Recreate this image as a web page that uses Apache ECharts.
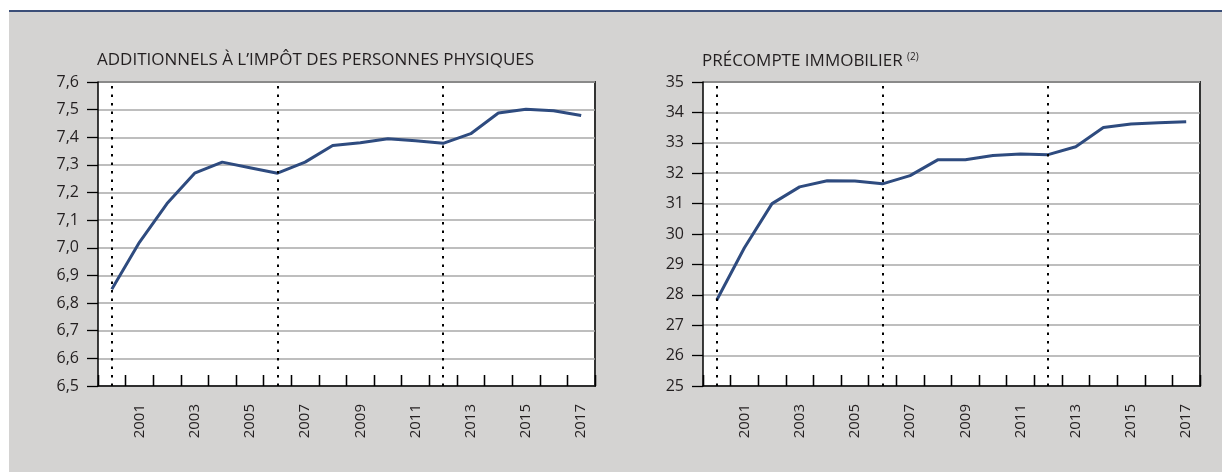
<!DOCTYPE html>
<html>
<head>
<meta charset="utf-8">
<script src="https://cdn.jsdelivr.net/npm/echarts@6/dist/echarts.min.js"></script>
<style>
  html, body { margin: 0; padding: 0; background: #fff; }
  #frame {
    position: absolute; left: 9px; top: 10px; width: 1213px; height: 462px;
    background: #d4d3d2; border-top: 2px solid #3b4e78; box-sizing: border-box;
  }
  .plot {
    position: absolute; top: 81px; width: 498px; height: 306px; box-sizing: border-box;
    background: #fff; border-top: 2px solid #333; border-right: 2px solid #333;
  }
  #chart { position: absolute; left: 0; top: 0; width: 1222px; height: 473px; }
</style>
</head>
<body>
<div id="frame"></div>
<div class="plot" style="left: 98px;"></div>
<div class="plot" style="left: 703px;"></div>
<div id="chart"></div>
<script>
const years = ["2000", "2001", "2002", "2003", "2004", "2005", "2006", "2007", "2008",
  "2009", "2010", "2011", "2012", "2013", "2014", "2015", "2016", "2017"];
const additionnels = [6.85, 7.02, 7.16, 7.27, 7.31, 7.29, 7.27, 7.31, 7.37,
  7.38, 7.395, 7.387, 7.378, 7.413, 7.488, 7.501, 7.496, 7.479];
const precompte = [27.83, 29.55, 31.0, 31.55, 31.75, 31.74, 31.65, 31.92, 32.44,
  32.44, 32.58, 32.63, 32.61, 32.87, 33.5, 33.62, 33.66, 33.69];
const electionYears = ["2000", "2006", "2012"];

const font = "'Open Sans', 'Noto Sans', sans-serif";
const textColor = "#231f20";
const lineColor = "#2e4b7f";
const plotTop = 82;
const plotHeight = 304;
const plotWidth = 497;
const plotLefts = [98, 703];
const tickLength = 11;

function xAxisFor(gridIndex) {
  return {
    type: "category",
    gridIndex: gridIndex,
    data: years,
    axisLine: { show: true, lineStyle: { color: "#000", width: 1.5 } },
    axisTick: { show: true, inside: true, length: tickLength, lineStyle: { color: "#000", width: 1.3 } },
    axisLabel: {
      rotate: 90,
      margin: 18,
      interval: 0,
      formatter: function (v) { return Number(v) % 2 === 1 ? v : ""; },
      color: textColor, fontFamily: font, fontSize: 15,
    },
    splitLine: { show: false },
  };
}

// thin strip along the bottom of each plot: its split lines are the year-boundary ticks
function tickStripAxisFor(gridIndex) {
  return {
    type: "category",
    gridIndex: gridIndex,
    data: years,
    axisLine: { show: false },
    axisTick: { show: false },
    axisLabel: { show: false },
    splitLine: { show: true, interval: 0, lineStyle: { color: "#000", width: 1.3 } },
  };
}

function yAxisFor(gridIndex, min, max, interval, digits) {
  return {
    type: "value",
    gridIndex: gridIndex,
    min: min, max: max, interval: interval,
    axisLine: { show: true, onZero: false, lineStyle: { color: "#000", width: 1.5 } },
    axisTick: { show: true, length: 11, lineStyle: { color: "#000", width: 1.3 } },
    axisLabel: {
      margin: 19,
      color: textColor, fontFamily: font, fontSize: 16,
      formatter: function (v) { return v.toFixed(digits).replace(".", ","); },
    },
    splitLine: { show: true, lineStyle: { color: "#a9a9a9", width: 1.5 } },
  };
}

function hiddenYAxisFor(gridIndex) {
  return { type: "value", gridIndex: gridIndex, min: 0, max: 1, show: false };
}

function seriesFor(index, data) {
  return {
    type: "line",
    xAxisIndex: index, yAxisIndex: index,
    data: data,
    symbol: "none",
    lineStyle: { color: lineColor, width: 3 },
    markLine: {
      silent: true, symbol: "none",
      label: { show: false },
      lineStyle: { color: "#000", type: [2.5, 6], width: 2 },
      data: electionYears.map(function (y) { return { xAxis: y }; }),
    },
  };
}

const chart = echarts.init(document.getElementById("chart"), null, { renderer: "canvas" });
chart.setOption({
  animation: false,
  title: [
    {
      text: "ADDITIONNELS À L’IMPÔT DES PERSONNES PHYSIQUES",
      left: 97, top: 52, padding: 0,
      textStyle: { color: textColor, fontFamily: font, fontSize: 17, fontWeight: "normal" },
    },
    {
      text: "PRÉCOMPTE IMMOBILIER {sup|(2)}",
      left: 702, top: 52, padding: 0,
      textStyle: {
        color: textColor, fontFamily: font, fontSize: 17, fontWeight: "normal",
        rich: { sup: { fontSize: 10, verticalAlign: "top", padding: [0, 0, 8, 0], color: textColor, fontFamily: font } },
      },
    },
  ],
  grid: [
    { left: plotLefts[0], top: plotTop, width: plotWidth, height: plotHeight },
    { left: plotLefts[1], top: plotTop, width: plotWidth, height: plotHeight },
    { left: plotLefts[0], top: plotTop + plotHeight - tickLength, width: plotWidth, height: tickLength },
    { left: plotLefts[1], top: plotTop + plotHeight - tickLength, width: plotWidth, height: tickLength },
  ],
  xAxis: [xAxisFor(0), xAxisFor(1), tickStripAxisFor(2), tickStripAxisFor(3)],
  yAxis: [yAxisFor(0, 6.5, 7.6, 0.1, 1), yAxisFor(1, 25, 35, 1, 0), hiddenYAxisFor(2), hiddenYAxisFor(3)],
  series: [seriesFor(0, additionnels), seriesFor(1, precompte)],
});
</script>
</body>
</html>
